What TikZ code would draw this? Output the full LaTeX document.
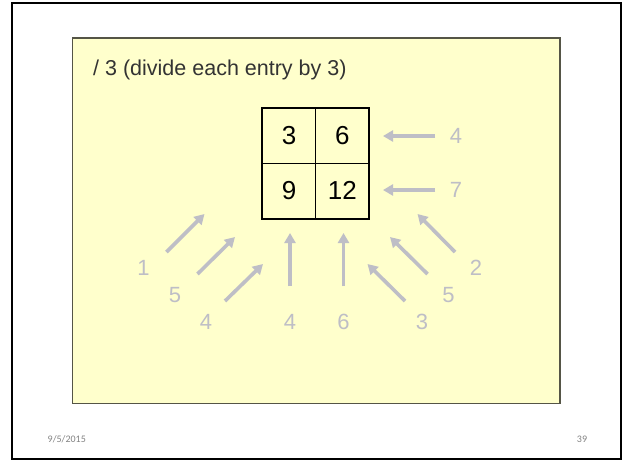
\documentclass[tikz,border=0pt]{standalone}
\usepackage{fontspec}
\setmainfont{Liberation Sans}
\newfontfamily\footfont{Carlito}
\usetikzlibrary{arrows.meta, positioning}

\definecolor{slideyellow}{RGB}{255,255,204}
\definecolor{boxedge}{RGB}{85,85,70}
\definecolor{lightgray}{RGB}{190,190,198}
\definecolor{footgray}{RGB}{130,130,130}

\begin{document}
\begin{tikzpicture}[
    x=1pt, y=-1pt,
    cell/.style={minimum width=53pt, minimum height=55pt, inner sep=0pt, font=\fontsize{26}{30}\selectfont},
    lbl/.style={inner sep=0pt, text=lightgray, font=\fontsize{22}{26}\selectfont},
    feed/.style={-{Triangle[length=10pt, width=11pt]}, line width=3.6pt, lightgray},
    foot/.style={inner sep=0pt, text=footgray, font=\footfont\fontsize{10}{12}\selectfont}]
  \useasboundingbox (0,0) rectangle (626,461);
  \fill[white] (0,0) rectangle (626,461);
  % slide frame and panel
  \draw[line width=2.4pt] (12,3) rectangle (621,459);
  \draw[boxedge, line width=1.2pt, fill=slideyellow] (72.5,38) rectangle (560,403.5);
  \node[anchor=west, inner sep=0pt, text=black!80, font=\fontsize{21.5}{26}\selectfont] (title) at (93,70) {/ 3 (divide each entry by 3)};

  % the 2x2 matrix
  \node[cell] (c11) at (289,135.5) {3};
  \node[cell, right=0pt of c11] (c12) {6};
  \node[cell, below=0pt of c11] (c21) {9};
  \node[cell, right=0pt of c21] (c22) {12};
  \draw[line width=0.5pt] (c11.north east) -- (c21.south east);
  \draw[line width=0.5pt] (c11.south west) -- (c12.south east);
  \draw[line width=2pt] (c11.north west) rectangle (c22.south east);

  % row inputs
  \node[lbl] (r1) at (456,136) {4};
  \node[lbl] (r2) at (456,190) {7};
  \coordinate (r1t) at (435,136);
  \coordinate (r1h) at (383,136);
  \coordinate (r2t) at (435,190);
  \coordinate (r2h) at (383,190);
  \draw[feed] (r1t) -- (r1h);
  \draw[feed] (r2t) -- (r2h);

  % inputs from below
  \node[lbl] (b1) at (143.5,268) {1};
  \node[lbl] (b2) at (175,295) {5};
  \node[lbl] (b3) at (206,322) {4};
  \node[lbl] (b4) at (290,322) {4};
  \node[lbl] (b5) at (343.5,322) {6};
  \node[lbl] (b6) at (422,322) {3};
  \node[lbl] (b7) at (448.5,295) {5};
  \node[lbl] (b8) at (476,268) {2};
  \coordinate (b1t) at (166.5,252);
  \coordinate (b1h) at (204.5,214);
  \coordinate (b2t) at (197.5,274);
  \coordinate (b2h) at (235,237);
  \coordinate (b3t) at (225,301);
  \coordinate (b3h) at (263,264);
  \coordinate (b4t) at (290,286);
  \coordinate (b4h) at (290,233);
  \coordinate (b5t) at (343.5,286);
  \coordinate (b5h) at (343.5,233);
  \coordinate (b6t) at (405,301);
  \coordinate (b6h) at (367.5,264);
  \coordinate (b7t) at (427.5,274);
  \coordinate (b7h) at (390,237);
  \coordinate (b8t) at (455,252);
  \coordinate (b8h) at (417.5,214);
  \draw[feed] (b1t) -- (b1h);
  \draw[feed] (b2t) -- (b2h);
  \draw[feed] (b3t) -- (b3h);
  \draw[feed] (b4t) -- (b4h);
  \draw[feed] (b5t) -- (b5h);
  \draw[feed] (b6t) -- (b6h);
  \draw[feed] (b7t) -- (b7h);
  \draw[feed] (b8t) -- (b8h);

  % footer
  \node[foot, anchor=west] (date) at (47.5,439) {9/5/2015};
  \node[foot] (page) at (582,439) {39};
\end{tikzpicture}
\end{document}
